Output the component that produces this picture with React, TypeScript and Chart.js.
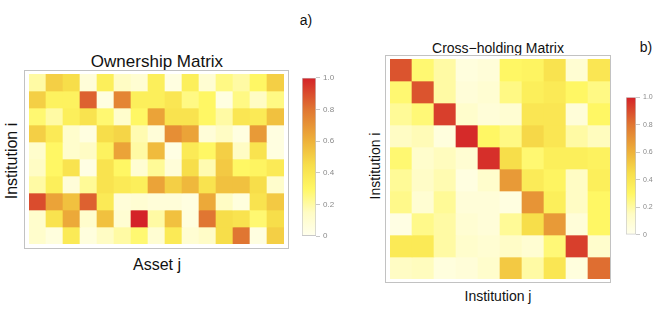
import React, { useEffect, useRef } from 'react';
import { Chart, registerables } from 'chart.js';

Chart.register(...registerables);

// ---------- data ----------
const assetLabels = ['A1','A2','A3','A4','A5','A6','A7','A8','A9','A10','A11','A12','A13','A14','A15'];
const institutionLabels = ['I1','I2','I3','I4','I5','I6','I7','I8','I9','I10'];

const ownership: number[][] = [
  [0.20, 0.50, 0.45, 0.08, 0.35, 0.15, 0.10, 0.35, 0.05, 0.35, 0.10, 0.25, 0.20, 0.30, 0.50],
  [0.50, 0.33, 0.33, 0.85, 0.05, 0.75, 0.35, 0.35, 0.40, 0.25, 0.30, 0.05, 0.25, 0.15, 0.25],
  [0.28, 0.20, 0.35, 0.42, 0.28, 0.12, 0.30, 0.65, 0.42, 0.42, 0.30, 0.20, 0.40, 0.38, 0.55],
  [0.50, 0.38, 0.12, 0.05, 0.45, 0.48, 0.18, 0.08, 0.72, 0.65, 0.08, 0.15, 0.05, 0.68, 0.05],
  [0.12, 0.30, 0.12, 0.15, 0.33, 0.65, 0.20, 0.57, 0.04, 0.38, 0.30, 0.50, 0.15, 0.42, 0.05],
  [0.15, 0.30, 0.42, 0.04, 0.42, 0.30, 0.10, 0.22, 0.08, 0.45, 0.18, 0.52, 0.30, 0.32, 0.38],
  [0.20, 0.35, 0.08, 0.22, 0.42, 0.38, 0.35, 0.65, 0.50, 0.58, 0.42, 0.55, 0.55, 0.45, 0.12],
  [0.90, 0.65, 0.55, 0.85, 0.38, 0.08, 0.10, 0.08, 0.08, 0.05, 0.63, 0.15, 0.06, 0.42, 0.52],
  [0.12, 0.42, 0.63, 0.12, 0.55, 0.10, 1.00, 0.20, 0.55, 0.06, 0.80, 0.45, 0.42, 0.28, 0.45],
  [0.12, 0.06, 0.38, 0.06, 0.15, 0.20, 0.28, 0.10, 0.38, 0.10, 0.14, 0.45, 0.80, 0.05, 0.50],
];

const crossHolding: number[][] = [
  [0.88, 0.28, 0.20, 0.06, 0.08, 0.30, 0.32, 0.42, 0.10, 0.40],
  [0.28, 0.88, 0.20, 0.08, 0.10, 0.25, 0.35, 0.38, 0.30, 0.25],
  [0.22, 0.27, 0.93, 0.12, 0.08, 0.10, 0.40, 0.40, 0.08, 0.30],
  [0.15, 0.17, 0.06, 0.98, 0.30, 0.25, 0.47, 0.40, 0.20, 0.16],
  [0.28, 0.12, 0.16, 0.10, 0.97, 0.45, 0.28, 0.35, 0.35, 0.33],
  [0.22, 0.14, 0.18, 0.05, 0.12, 0.68, 0.37, 0.32, 0.15, 0.35],
  [0.24, 0.10, 0.22, 0.08, 0.08, 0.05, 0.70, 0.35, 0.15, 0.30],
  [0.04, 0.24, 0.20, 0.10, 0.08, 0.22, 0.45, 0.68, 0.08, 0.30],
  [0.38, 0.38, 0.20, 0.12, 0.10, 0.14, 0.10, 0.27, 0.93, 0.12],
  [0.15, 0.16, 0.06, 0.08, 0.12, 0.52, 0.20, 0.40, 0.06, 0.82],
];

const colorbarTicks = [0, 0.2, 0.4, 0.6, 0.8, 1.0];

// ---------- colour map ----------
const cmapPos = [0, 0.15, 0.3, 0.45, 0.6, 0.8, 1.0];
const cmapRgb = [
  [255, 255, 238],
  [255, 252, 196],
  [255, 247, 100],
  [247, 222, 74],
  [238, 178, 58],
  [224, 118, 50],
  [212, 34, 40],
];

function cmap(v: number): string {
  const x = Math.max(0, Math.min(1, v));
  for (let i = 0; i < cmapPos.length - 1; i++) {
    if (x <= cmapPos[i + 1]) {
      const t = (x - cmapPos[i]) / (cmapPos[i + 1] - cmapPos[i]);
      const a = cmapRgb[i], b = cmapRgb[i + 1];
      const c = a.map((av, k) => Math.round(av + (b[k] - av) * t));
      return `rgb(${c[0]},${c[1]},${c[2]})`;
    }
  }
  const l = cmapRgb[cmapRgb.length - 1];
  return `rgb(${l[0]},${l[1]},${l[2]})`;
}

const FONT = '"Liberation Sans", Arial, Helvetica, sans-serif';

const frameBorder = {
  id: 'frameBorder',
  afterDraw(chart: any) {
    const { ctx, width, height } = chart;
    ctx.save();
    ctx.strokeStyle = '#C2C2C2';
    ctx.lineWidth = 1;
    ctx.strokeRect(0.5, 0.5, width - 1, height - 1);
    ctx.restore();
  },
};

type Pad = { left: number; right: number; top: number; bottom: number };

function Heatmap({ matrix, cols, pad, left, top, width, height }:
  { matrix: number[][]; cols: string[]; pad: Pad; left: number; top: number; width: number; height: number }) {
  const ref = useRef<HTMLCanvasElement>(null);
  useEffect(() => {
    const nRows = matrix.length;
    const datasets = matrix.map((row, r) => ({
      label: institutionLabels[r] ?? String(r),
      data: row.map(() => [r, r + 1]),
      backgroundColor: row.map(cmap),
      borderWidth: 0,
      grouped: false,
      barPercentage: 1,
      categoryPercentage: 1,
    }));
    const chart = new Chart(ref.current as HTMLCanvasElement, {
      type: 'bar',
      data: { labels: cols, datasets: datasets as any },
      options: {
        animation: false,
        responsive: false,
        maintainAspectRatio: false,
        layout: { padding: pad },
        plugins: { legend: { display: false }, tooltip: { enabled: false } },
        scales: {
          x: { display: false, offset: true },
          y: { display: false, min: 0, max: nRows, reverse: true },
        },
      },
      plugins: [frameBorder],
    });
    return () => chart.destroy();
  }, []);
  return (
    <canvas ref={ref} width={width} height={height}
      style={{ position: 'absolute', left, top, width, height }} />
  );
}

function Colorbar({ left, top, barWidth, barHeight, axisWidth, fontSize }:
  { left: number; top: number; barWidth: number; barHeight: number; axisWidth: number; fontSize: number }) {
  const ref = useRef<HTMLCanvasElement>(null);
  const padTop = 5, padBottom = 6;
  const width = barWidth + axisWidth;
  const height = barHeight + padTop + padBottom;
  useEffect(() => {
    const chart = new Chart(ref.current as HTMLCanvasElement, {
      type: 'bar',
      data: {
        labels: ['scale'],
        datasets: [{
          data: [[0, 1]] as any,
          backgroundColor: (c: any) => {
            const ca = c.chart.chartArea;
            if (!ca) return '#fff';
            const g = c.chart.ctx.createLinearGradient(0, ca.bottom, 0, ca.top);
            cmapPos.forEach((p, i) => {
              const [r, gg, b] = cmapRgb[i];
              g.addColorStop(p, `rgb(${r},${gg},${b})`);
            });
            return g;
          },
          borderColor: '#C8C8C8',
          borderWidth: 1,
          borderSkipped: false,
          barPercentage: 1,
          categoryPercentage: 1,
        }],
      },
      options: {
        animation: false,
        responsive: false,
        maintainAspectRatio: false,
        layout: { padding: { left: 0, right: 0, top: padTop, bottom: padBottom } },
        plugins: { legend: { display: false }, tooltip: { enabled: false } },
        scales: {
          x: { display: false },
          y: {
            position: 'right',
            min: 0,
            max: 1,
            afterBuildTicks: (s: any) => { s.ticks = colorbarTicks.map((v) => ({ value: v })); },
            afterFit: (s: any) => { s.width = axisWidth; },
            ticks: {
              color: '#8a8a8a',
              font: { size: fontSize, family: FONT },
              padding: 3,
              callback: (v: any) => (Number(v) === 0 ? '0' : Number(v).toFixed(1)),
            },
            grid: { drawOnChartArea: false, tickLength: 4, color: '#C8C8C8' },
            border: { display: false },
          },
        },
      },
    });
    return () => chart.destroy();
  }, []);
  return (
    <canvas ref={ref} width={width} height={height}
      style={{ position: 'absolute', left, top: top - padTop, width, height }} />
  );
}

function Label({ text, x, y, size, rotate }: { text: string; x: number; y: number; size: number; rotate?: boolean }) {
  return (
    <div style={{
      position: 'absolute', left: x, top: y, fontFamily: FONT, fontSize: size, lineHeight: 1,
      color: '#111', whiteSpace: 'nowrap',
      transform: `translate(-50%, -50%)${rotate ? ' rotate(-90deg)' : ''}`,
    }}>{text}</div>
  );
}

export default function App() {
  return (
    <div style={{ position: 'fixed', left: 0, top: 0, width: 664, height: 316, background: '#fff', overflow: 'hidden' }}>
      <Label text="a)" x={306} y={20} size={14} />
      <Label text="b)" x={646} y={47} size={14} />

      <Label text="Ownership Matrix" x={157} y={61} size={17} />
      <Heatmap matrix={ownership} cols={assetLabels}
        pad={{ left: 5, right: 5, top: 4, bottom: 5 }}
        left={24} top={70} width={265} height={179} />
      <Label text="Institution i" x={12} y={161} size={16} rotate />
      <Label text="Asset j" x={157} y={265} size={16} />
      <Colorbar left={302} top={75} barWidth={14} barHeight={163} axisWidth={26} fontSize={8} />

      <Label text={'Cross\u2212holding Matrix'} x={498} y={48} size={14} />
      <Heatmap matrix={crossHolding} cols={institutionLabels}
        pad={{ left: 5, right: 1, top: 4, bottom: 4 }}
        left={385} top={55} width={226} height={228} />
      <Label text="Institution i" x={375} y={166} size={14} rotate />
      <Label text="Institution j" x={498} y={296} size={14} />
      <Colorbar left={626} top={95} barWidth={10} barHeight={141} axisWidth={26} fontSize={7} />
    </div>
  );
}
